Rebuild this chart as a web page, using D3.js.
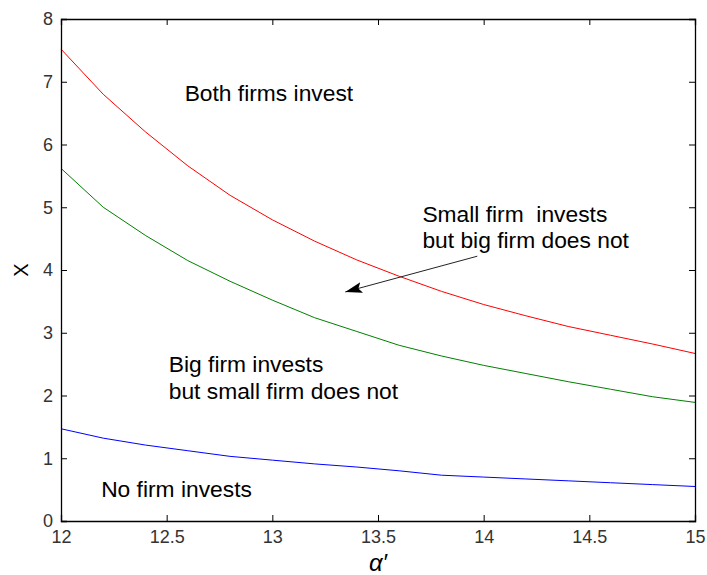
<!DOCTYPE html>
<html>
<head>
<meta charset="utf-8">
<script src="https://cdn.jsdelivr.net/npm/d3@7"></script>
<style>
  body { margin: 0; background: #fff; }
  text { font-family: "Liberation Sans", Arial, sans-serif; }
</style>
</head>
<body>
<svg id="chart" width="707" height="575"></svg>
<script>
// alpha' values
const alphas = [12, 12.2, 12.4, 12.6, 12.8, 13, 13.2, 13.4, 13.6, 13.8, 14, 14.2, 14.4, 14.6, 14.8, 15]
// boundary where small firm invests (red)
const redVals = [7.52, 6.8, 6.2, 5.66, 5.19, 4.8, 4.46, 4.16, 3.9, 3.66, 3.45, 3.27, 3.1, 2.96, 2.82, 2.67]
// boundary where big firm invests (green)
const greenVals = [5.62, 5.0, 4.55, 4.15, 3.82, 3.52, 3.24, 3.02, 2.8, 2.63, 2.48, 2.35, 2.22, 2.1, 1.98, 1.89]
// boundary where no firm invests (blue)
const blueVals = [1.47, 1.32, 1.21, 1.12, 1.03, 0.97, 0.91, 0.86, 0.8, 0.73, 0.7, 0.67, 0.64, 0.61, 0.58, 0.55]

const xTicks = [12, 12.5, 13, 13.5, 14, 14.5, 15]
const yTicks = [0, 1, 2, 3, 4, 5, 6, 7, 8]

const regionLabels = [
  { lines: ['Both firms invest'], x: 12.585, y: 6.7 },
  { lines: ['Big firm invests', 'but small firm does not'], x: 12.51, y: 2.37 },
  { lines: ['No firm invests'], x: 12.19, y: 0.38 },
  { lines: ['Small firm  invests', 'but big firm does not'], x: 13.71, y: 4.765 }
]
const arrow = { from: [13.97, 4.22], to: [13.345, 3.65] }

const margin = { left: 61, top: 19, right: 12, bottom: 54 }
const W = 707, H = 575
const svg = d3.select('#chart')

const x = d3.scaleLinear().domain([12, 15]).range([margin.left, W - margin.right])
const y = d3.scaleLinear().domain([0, 8]).range([H - margin.bottom, margin.top])

svg.append('defs').append('marker')
  .attr('id', 'head')
  .attr('viewBox', '0 0 10 10')
  .attr('refX', 10).attr('refY', 5)
  .attr('markerWidth', 17).attr('markerHeight', 11)
  .attr('markerUnits', 'userSpaceOnUse')
  .attr('orient', 'auto')
  .attr('preserveAspectRatio', 'none')
  .append('path')
  .attr('d', 'M0,0 L10,5 L0,10 L2,5 Z')
  .attr('fill', '#000')

const line = d3.line()
  .x((d, i) => x(alphas[i]))
  .y(d => y(d))

const series = [
  { vals: redVals, color: '#ff0000' },
  { vals: greenVals, color: '#008000' },
  { vals: blueVals, color: '#0000ff' }
]
series.forEach(s => {
  svg.append('path')
    .attr('d', line(s.vals))
    .attr('fill', 'none')
    .attr('stroke', s.color)
    .attr('stroke-width', 1)
})

// axes (ticks inward, box on all sides)
const tickLen = 6
const xb = svg.append('g').attr('transform', `translate(0,${y(0)})`)
  .call(d3.axisBottom(x).tickValues(xTicks).tickSize(-tickLen).tickPadding(9).tickFormat(d3.format('')))
const xt = svg.append('g').attr('transform', `translate(0,${y(8)})`)
  .call(d3.axisTop(x).tickValues(xTicks).tickSize(-tickLen).tickFormat(''))
const yl = svg.append('g').attr('transform', `translate(${x(12)},0)`)
  .call(d3.axisLeft(y).tickValues(yTicks).tickSize(-tickLen).tickPadding(8))
const yr = svg.append('g').attr('transform', `translate(${x(15)},0)`)
  .call(d3.axisRight(y).tickValues(yTicks).tickSize(-tickLen).tickFormat(''))

;[xb, xt, yl, yr].forEach(g => {
  g.select('.domain').attr('stroke', '#000').attr('stroke-width', 1.3)
  g.selectAll('.tick line').attr('stroke', '#000')
  g.selectAll('.tick text')
    .attr('font-size', 18)
    .attr('fill', '#333')
    .attr('font-family', '"Liberation Sans", Arial, sans-serif')
})

// axis titles
svg.append('text')
  .attr('x', x(13.5)).attr('y', 571)
  .attr('text-anchor', 'middle')
  .attr('font-size', 24)
  .attr('font-family', '"Liberation Serif", "DejaVu Serif", serif')
  .attr('font-style', 'italic')
  .text('α′')
svg.append('text')
  .attr('transform', `translate(28,${y(4)}) rotate(-90)`)
  .attr('text-anchor', 'middle')
  .attr('font-size', 20)
  .text('X')

// region labels
regionLabels.forEach(l => {
  const t = svg.append('text')
    .attr('x', x(l.x)).attr('y', y(l.y))
    .attr('font-size', 22.8)
    .attr('fill', '#000')
    .style('white-space', 'pre')
  l.lines.forEach((s, i) => {
    t.append('tspan').attr('x', x(l.x)).attr('dy', i === 0 ? 0 : 26.5).text(s)
  })
})

svg.append('line')
  .attr('x1', x(arrow.from[0])).attr('y1', y(arrow.from[1]))
  .attr('x2', x(arrow.to[0])).attr('y2', y(arrow.to[1]))
  .attr('stroke', '#222').attr('stroke-width', 1)
  .attr('marker-end', 'url(#head)')
</script>
</body>
</html>
